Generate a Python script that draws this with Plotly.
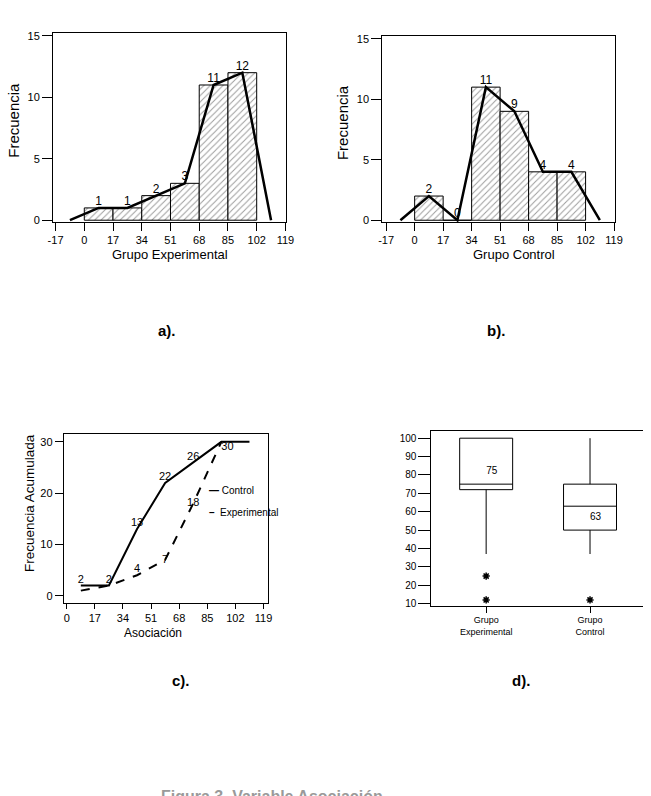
import plotly.graph_objects as go

# ---------------- data ----------------
class_mid = [8.5, 25.5, 42.5, 59.5, 76.5, 93.5]
poly_x = [-8.5, 8.5, 25.5, 42.5, 59.5, 76.5, 93.5, 110.5]
exp_freq = [1, 1, 2, 3, 11, 12]
ctrl_freq = [2, 0, 11, 9, 4, 4]
hist_ticks = [-17, 0, 17, 34, 51, 68, 85, 102, 119]
hist_ticktext = ["-17", "0", "17", "34", "51", "68", "85", "102", "119"]

cum_x = [8.5, 25.5, 42.5, 59.5, 76.5, 93.5, 110.5]
cum_ctrl = [2, 2, 13, 22, 26, 30, 30]
cum_ctrl_lbl = ["2", "2", "13", "22", "26", "", ""]
cum_exp_x = [8.5, 25.5, 42.5, 59.5, 76.5, 93.5]
cum_exp = [1, 2, 4, 7, 18, 30]
cum_exp_lbl = ["", "", "4", "7", "18", "30"]
cum_ticks = [0, 17, 34, 51, 68, 85, 102, 119]

groups = ["Grupo Experimental", "Grupo Control"]
group_ticktext = ["Grupo<br>Experimental", "Grupo<br>Control"]
q1 = [72, 50]
med = [75, 63]
q3 = [100, 75]
lo_fence = [37, 37]
hi_fence = [100, 100]
out_x = ["Grupo Experimental", "Grupo Experimental", "Grupo Control"]
out_y = [25, 12, 12]
med_lbl_y = [82, 57]
med_lbl = ["75", "63"]

W, H = 651, 796
FONT = "Liberation Sans, Arial, sans-serif"


def px_x(p):
    return p / W


def px_y(p):
    return 1 - p / H


fig = go.Figure()

pattern = dict(shape="/", fgcolor="#3a3a3a", bgcolor="white", size=4.5, solidity=0.22)

# ---- panel a ----
fig.add_trace(go.Bar(x=class_mid, y=exp_freq, width=17,
                     marker=dict(color="white", line=dict(color="black", width=1), pattern=pattern),
                     xaxis="x", yaxis="y", showlegend=False))
fig.add_trace(go.Scatter(x=poly_x, y=[0] + exp_freq + [0], mode="lines",
                         line=dict(color="black", width=2.5), xaxis="x", yaxis="y", showlegend=False))
fig.add_trace(go.Scatter(x=class_mid, y=exp_freq, mode="text", text=[str(v) for v in exp_freq],
                         textposition="top center", textfont=dict(size=12, color="black", family=FONT),
                         xaxis="x", yaxis="y", showlegend=False))

# ---- panel b ----
fig.add_trace(go.Bar(x=class_mid, y=ctrl_freq, width=17,
                     marker=dict(color="white", line=dict(color="black", width=1), pattern=pattern),
                     xaxis="x2", yaxis="y2", showlegend=False))
fig.add_trace(go.Scatter(x=poly_x, y=[0] + ctrl_freq + [0], mode="lines",
                         line=dict(color="black", width=2.5), xaxis="x2", yaxis="y2", showlegend=False))
fig.add_trace(go.Scatter(x=class_mid, y=ctrl_freq, mode="text", text=[str(v) for v in ctrl_freq],
                         textposition="top center", textfont=dict(size=12, color="black", family=FONT),
                         xaxis="x2", yaxis="y2", showlegend=False))

# ---- panel c ----
fig.add_trace(go.Scatter(x=cum_x, y=cum_ctrl, mode="lines+text", text=cum_ctrl_lbl,
                         textposition="top center", textfont=dict(size=11, color="black", family=FONT),
                         line=dict(color="black", width=2), xaxis="x3", yaxis="y3", showlegend=False))
fig.add_trace(go.Scatter(x=cum_exp_x, y=cum_exp, mode="lines",
                         line=dict(color="black", width=2, dash="dash"), xaxis="x3", yaxis="y3",
                         showlegend=False))
fig.add_trace(go.Scatter(x=cum_exp_x, y=cum_exp, mode="text", text=cum_exp_lbl,
                         textposition=["top center", "top center", "top center", "middle center",
                                       "middle center", "bottom right"],
                         textfont=dict(size=11, color="black", family=FONT),
                         xaxis="x3", yaxis="y3", showlegend=False))

# ---- panel d ----
fig.add_trace(go.Box(x=groups, q1=q1, median=med, q3=q3, lowerfence=lo_fence, upperfence=hi_fence,
                     width=0.51, whiskerwidth=0, fillcolor="white",
                     line=dict(color="black", width=1), boxpoints=False,
                     xaxis="x4", yaxis="y4", showlegend=False))
fig.add_trace(go.Scatter(x=out_x, y=out_y, mode="markers",
                         marker=dict(symbol="asterisk-open", size=6, color="black",
                                     line=dict(color="black", width=1.5)),
                         xaxis="x4", yaxis="y4", showlegend=False))
fig.add_trace(go.Scatter(x=groups, y=med_lbl_y, mode="text", text=med_lbl,
                         textposition="middle right", textfont=dict(size=10, color="black", family=FONT),
                         xaxis="x4", yaxis="y4", showlegend=False))

tickfont = dict(size=11, color="black", family=FONT)
common = dict(showgrid=False, zeroline=False, showline=True, linecolor="black", linewidth=1,
              ticks="outside", tickcolor="black", tickfont=tickfont)

fig.update_layout(
    width=W, height=H,
    margin=dict(l=0, r=0, t=0, b=0),
    paper_bgcolor="white", plot_bgcolor="white",
    barmode="overlay",
    font=dict(family=FONT, color="black"),
    xaxis=dict(domain=[px_x(49), px_x(287)], range=[-18.5, 119.5], tickvals=hist_ticks,
               ticktext=hist_ticktext, ticklen=8, mirror=True, anchor="y", **common),
    yaxis=dict(domain=[px_y(221), px_y(30)], range=[-0.15, 15.25], tickvals=[0, 5, 10, 15],
               ticklen=10, mirror=True, anchor="x", **common),
    xaxis2=dict(domain=[px_x(385), px_x(622)], range=[-19.3, 119.3], tickvals=hist_ticks,
                ticktext=hist_ticktext, ticklen=8, mirror=True, anchor="y2", **common),
    yaxis2=dict(domain=[px_y(221), px_y(33)], range=[-0.15, 15.25], tickvals=[0, 5, 10, 15],
                ticklen=10, mirror=True, anchor="x2", **common),
    xaxis3=dict(domain=[px_x(60), px_x(268)], range=[-1.8, 121.5], tickvals=cum_ticks,
                ticklen=5, mirror=True, anchor="y3", **common),
    yaxis3=dict(domain=[px_y(605), px_y(435)], range=[-1.35, 31.5], tickvals=[0, 10, 20, 30],
                ticklen=8, mirror=True, anchor="x3", **common),
    xaxis4=dict(domain=[px_x(435), 1.0], range=[-0.528, 1.51], type="category",
                categoryorder="array", categoryarray=groups,
                tickvals=groups, ticktext=group_ticktext, ticklen=6, mirror=True, anchor="y4",
                **{**common, "tickfont": dict(size=9, color="black", family=FONT)}),
    yaxis4=dict(domain=[px_y(608), px_y(432)], range=[8.9, 103.8], tickvals=list(range(10, 101, 10)),
                ticklen=12, mirror=False, anchor="x4",
                **{**common, "tickfont": dict(size=10, color="black", family=FONT)}),
)


def ann(text, x, y, size=13, angle=0, bold=False, color="black", xanchor="center", yanchor="middle"):
    fig.add_annotation(text=f"<b>{text}</b>" if bold else text, x=x, y=y, xref="paper", yref="paper",
                       showarrow=False, textangle=angle, xanchor=xanchor, yanchor=yanchor,
                       font=dict(size=size, color=color, family=FONT))


ann("Frecuencia", px_x(9), px_y(118), size=15, angle=-90)
ann("Grupo Experimental", px_x(168), px_y(254), size=13)
ann("Frecuencia", px_x(345), px_y(121), size=15, angle=-90)
ann("Grupo Control", px_x(519), px_y(254), size=13)
ann("Frecuencia Acumulada", px_x(25), px_y(505), size=13.5, angle=-90)
ann("Asociación", px_x(151), px_y(636), size=12)

# legend for panel c
ann("<b>—</b> Control", px_x(206), px_y(492), size=10, xanchor="left")
ann("<b>–</b>  Experimental", px_x(206), px_y(514), size=10, xanchor="left")

ann("a).", px_x(165), px_y(330), size=15, bold=True)
ann("b).", px_x(501), px_y(330), size=15, bold=True)
ann("c).", px_x(180), px_y(684), size=15, bold=True)
ann("d).", px_x(527), px_y(684), size=15, bold=True)

ann("Figura 3. Variable Asociación", px_x(157), px_y(790), size=16, bold=True, color="#9a9a9a",
    xanchor="left", yanchor="top")

fig.write_html("out.html")
